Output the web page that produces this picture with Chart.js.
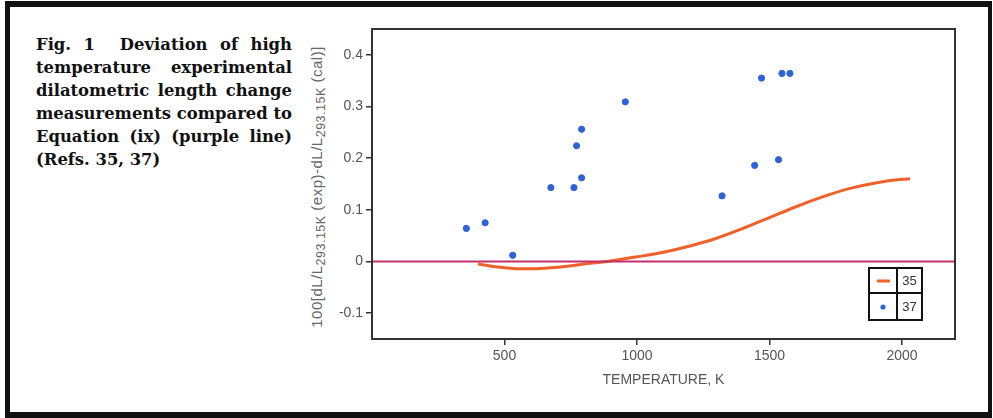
<!DOCTYPE html>
<html>
<head>
<meta charset="utf-8">
<script src="https://cdn.jsdelivr.net/npm/chart.js@4.4.0/dist/chart.umd.min.js"></script>
<style>
    html, body { margin: 0; padding: 0; background: #fff; }
    body { width: 993px; height: 418px; position: relative; overflow: hidden; }
    .frame {
        position: absolute; left: 5px; top: 1px; width: 978px; height: 405px;
        border-style: solid; border-color: #111; border-width: 6px 4px 6px 5px;
    }
    .caption {
        position: absolute; left: 36px; top: 33px; width: 256px;
        font-family: "DejaVu Serif", serif; font-weight: bold; font-size: 16.4px;
        line-height: 23px; color: #111;
    }
    .caption div { text-align: justify; text-align-last: justify; white-space: nowrap; }
    .caption div.last { text-align-last: left; }
    .ytitle {
        position: absolute; left: 318px; top: 187px;
        transform: translate(-50%, -50%) rotate(-90deg);
        font-family: "Liberation Sans", sans-serif; font-size: 15px; color: #666;
        letter-spacing: 0.5px; white-space: nowrap;
    }
    .ytitle sub { font-size: 12.5px; vertical-align: -3px; }
    #wrap { position: absolute; left: 296px; top: 10px; width: 670px; height: 400px; }
</style>
</head>
<body>
<div class="frame"></div>
<div class="caption">
    <div>Fig. 1&nbsp; Deviation of high</div>
    <div>temperature experimental</div>
    <div>dilatometric length change</div>
    <div>measurements compared to</div>
    <div>Equation (ix) (purple line)</div>
    <div class="last">(Refs. 35, 37)</div>
</div>
<div class="ytitle">100[dL/L<sub>293.15K</sub> (exp)-dL/L<sub>293.15K</sub> (cal)]</div>
<div id="wrap"><canvas id="chart"></canvas></div>

<script>
// ── Data ─────────────────────────────────────
const tempTicks = [500, 1000, 1500, 2000];
const devTicks = [-0.1, 0, 0.1, 0.2, 0.3, 0.4];

// Ref. 35 — smooth curve
const ref35Temp = [400, 450, 500, 550, 600, 650, 700, 800, 900, 1000, 1100, 1200, 1300, 1400, 1500, 1600, 1700, 1800, 1900, 2000, 2030];
const ref35Dev = [-0.005, -0.009, -0.012, -0.014, -0.014, -0.013, -0.011, -0.005, 0.001, 0.009, 0.018, 0.030, 0.045, 0.064, 0.085, 0.106, 0.125, 0.141, 0.152, 0.159, 0.160];

// Ref. 37 — measured points
const ref37Temp = [356, 427, 531, 675, 762, 772, 791, 791, 956, 1321, 1444, 1470, 1534, 1547, 1577];
const ref37Dev = [0.064, 0.075, 0.012, 0.143, 0.143, 0.224, 0.256, 0.162, 0.309, 0.127, 0.186, 0.355, 0.197, 0.364, 0.364];

// Equation (ix) — zero line
const eqTemp = [0, 2200];
const eqDev = [0, 0];

const legendLabels = ['35', '37'];

const ORANGE = '#f0602a';
const BLUE = '#2d62d8';
const PURPLE = '#c2306c';
const INK = '#333';

function pts(xs, ys) { return xs.map((x, i) => ({ x, y: ys[i] })); }

// ── Box + boxed legend ───────────────────────
const boxPlugin = {
    id: 'box',
    afterDatasetsDraw(chart) {
        const { ctx, chartArea: a } = chart;
        ctx.save();
        ctx.strokeStyle = INK;
        ctx.lineWidth = 2;
        ctx.strokeRect(a.left, a.top, a.right - a.left, a.bottom - a.top);

        // legend grid
        const r = a.right - 33, b = a.bottom - 19;
        const l = r - 53, t = b - 52, mid = l + 28, rowY = t + 25;
        ctx.lineWidth = 2;
        ctx.strokeStyle = '#111';
        ctx.strokeRect(l, t, r - l, b - t);
        ctx.beginPath();
        ctx.moveTo(mid, t); ctx.lineTo(mid, b);
        ctx.moveTo(l, rowY); ctx.lineTo(r, rowY);
        ctx.stroke();

        ctx.strokeStyle = ORANGE;
        ctx.lineWidth = 3;
        ctx.beginPath();
        ctx.moveTo(l + 8, t + 13); ctx.lineTo(l + 21, t + 13);
        ctx.stroke();

        ctx.fillStyle = BLUE;
        ctx.beginPath();
        ctx.arc(l + 14, rowY + 14, 2.6, 0, Math.PI * 2);
        ctx.fill();

        ctx.fillStyle = '#333';
        ctx.font = '13px "Liberation Sans", sans-serif';
        ctx.textAlign = 'center';
        ctx.textBaseline = 'middle';
        ctx.fillText(legendLabels[0], (mid + r) / 2, t + 13);
        ctx.fillText(legendLabels[1], (mid + r) / 2, rowY + 14);
        ctx.restore();
    }
};

// ── Chart ────────────────────────────────────
new Chart(document.getElementById('chart'), {
    type: 'scatter',
    data: {
        datasets: [
            {
                label: '37',
                data: pts(ref37Temp, ref37Dev),
                backgroundColor: BLUE,
                borderColor: BLUE,
                pointRadius: 3.1,
                order: 0,
            },
            {
                label: 'Equation (ix)',
                type: 'line',
                data: pts(eqTemp, eqDev),
                borderColor: PURPLE,
                borderWidth: 2,
                pointRadius: 0,
                order: 1,
            },
            {
                label: '35',
                type: 'line',
                data: pts(ref35Temp, ref35Dev),
                borderColor: ORANGE,
                borderWidth: 3,
                pointRadius: 0,
                cubicInterpolationMode: 'monotone',
                order: 2,
            },
        ],
    },
    options: {
        responsive: true,
        maintainAspectRatio: false,
        animation: false,
        layout: { padding: { top: 19, right: 11, left: 0, bottom: 21 } },
        plugins: { legend: { display: false }, tooltip: { enabled: false } },
        scales: {
            x: {
                type: 'linear',
                min: 0, max: 2200,
                afterBuildTicks: s => { s.ticks = tempTicks.map(v => ({ value: v })); },
                afterFit: s => { s.height = 50; },
                border: { display: false },
                grid: { drawOnChartArea: false, color: INK, lineWidth: 1.5, tickLength: 6 },
                ticks: {
                    color: '#555', font: { family: 'Liberation Sans', size: 14 }, padding: 3,
                    callback: v => String(v),
                },
                title: {
                    display: true, text: 'TEMPERATURE, K', color: '#555',
                    font: { family: 'Liberation Sans', size: 14 }, padding: { top: 2, bottom: 0 },
                },
            },
            y: {
                type: 'linear',
                min: -0.15, max: 0.45,
                afterBuildTicks: s => { s.ticks = devTicks.map(v => ({ value: v })); },
                afterFit: s => { s.width = 76; },
                border: { display: false },
                grid: { drawOnChartArea: false, color: INK, lineWidth: 1.5, tickLength: 6 },
                ticks: {
                    color: '#555', font: { family: 'Liberation Sans', size: 14 }, padding: 3,
                    callback: v => String(Math.round(v * 10) / 10),
                },
            },
        },
    },
    plugins: [boxPlugin],
});
</script>
</body>
</html>
